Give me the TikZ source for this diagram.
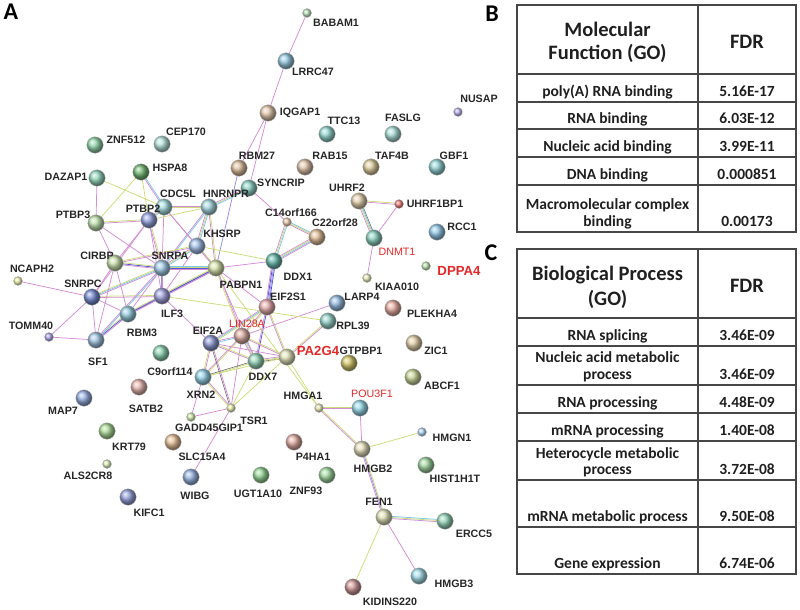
\documentclass[tikz,border=0pt]{standalone}
\usepackage{fontspec}
\newfontfamily\lsans{Liberation Sans}
\newfontfamily\carl{Carlito}
\usetikzlibrary{calc}
\pgfdeclarelayer{background}
\pgfsetlayers{background,main}
\definecolor{ee}{RGB}{212,140,212}
\definecolor{tt}{RGB}{205,220,120}
\definecolor{dd}{RGB}{120,200,232}
\definecolor{kk}{RGB}{110,110,110}
\definecolor{hh}{RGB}{150,140,225}
\definecolor{bb}{RGB}{85,85,215}
\definecolor{redtxt}{RGB}{228,40,40}
\definecolor{gridc}{RGB}{70,70,70}
\tikzset{
 pn/.style={circle, shading=ball, ball color=#1!72!white, draw=black!30, line width=0.3pt, minimum size=16.5pt, inner sep=0pt},
 sm/.style={minimum size=9pt},
 lab/.style={font=\lsans\bfseries\fontsize{10.7}{12}\selectfont, text=black!85, inner sep=0pt},
 rlab/.style={font=\lsans\fontsize{10.7}{12}\selectfont, text=redtxt, inner sep=0pt},
 rbig/.style={font=\lsans\bfseries\fontsize{13.2}{15}\selectfont, text=redtxt, inner sep=0pt},
 se/.style={draw=ee, line width=0.75pt},
 st/.style={draw=tt, line width=0.75pt},
 sd/.style={draw=dd, line width=0.75pt},
 sk/.style={draw=kk, line width=0.6pt},
 sh/.style={draw=hh, line width=0.75pt},
 sb/.style={draw=bb, line width=0.75pt},
 tb/.style={font=\carl\bfseries\fontsize{15.5}{17.5}\selectfont, text=black!88, anchor=base, inner sep=0pt},
 th/.style={font=\carl\bfseries\fontsize{20.5}{24}\selectfont, text=black!88, anchor=base, inner sep=0pt},
 panel/.style={font=\carl\bfseries\fontsize{24}{26}\selectfont, text=black, inner sep=0pt},
 grid/.style={draw=gridc, line width=1.2pt}
}
\newcommand\prot[5]{\definecolor{c#1}{HTML}{#4}\node[pn=c#1,#5] (#1) at (#2,#3) {};}
\newcommand\plab[4][lab]{\node[#1] (l#2) at (#3,#4) {#2};}
\newcommand\eline[4]{\draw[#3] ($(#1.center)!#4pt!90:(#2.center)$) -- ($(#2.center)!#4pt!-90:(#1.center)$);}
\newcommand\eA[3]{\eline{#1}{#2}{#3}{0}}
\newcommand\eB[4]{\eline{#1}{#2}{#3}{-0.6}\eline{#1}{#2}{#4}{0.6}}
\newcommand\eC[5]{\eline{#1}{#2}{#3}{-1.1}\eline{#1}{#2}{#4}{0}\eline{#1}{#2}{#5}{1.1}}
\newcommand\eD[6]{\eline{#1}{#2}{#3}{-1.6}\eline{#1}{#2}{#4}{-0.55}\eline{#1}{#2}{#5}{0.55}\eline{#1}{#2}{#6}{1.6}}
\begin{document}
\begin{tikzpicture}[x=1pt,y=-1pt]
\useasboundingbox (0,0) rectangle (800,610);
% ---------------- proteins
\prot{BABAM1}{307}{13}{9ED89E}{sm}
\prot{LRRC47}{286}{61}{6FB5D5}{}
\prot{IQGAP1}{268}{113}{D9B48F}{}
\prot{TTC13}{327}{134}{6CC9BE}{}
\prot{FASLG}{393}{134}{8DD3CB}{}
\prot{NUSAP}{458}{112}{9C94E6}{sm}
\prot{ZNF512}{95}{145}{6CC88E}{}
\prot{CEP170}{162}{144}{9BD8D0}{}
\prot{DAZAP1}{97}{178}{72CBA9}{}
\prot{HSPA8}{141}{172}{3F9E3F}{}
\prot{RBM27}{239}{168}{D3A77A}{}
\prot{RAB15}{305}{167}{D7AE8C}{}
\prot{TAF4B}{371}{167}{D6BD7C}{}
\prot{GBF1}{437}{167}{6FC6C8}{}
\prot{SYNCRIP}{249}{188}{5FBFAE}{}
\prot{UHRF2}{359}{201}{D9C08F}{}
\prot{UHRF1BP1}{399}{204}{E24848}{sm}
\prot{CDC5L}{164}{207}{84D0D3}{}
\prot{HNRNPR}{209}{207}{82C6D2}{}
\prot{PTBP2}{149}{220}{6C7FD1}{}
\prot{PTBP3}{96}{223}{A8D790}{}
\prot{C14orf166}{287}{222}{E2B08F}{sm}
\prot{C22orf28}{317}{237}{D7A774}{}
\prot{DNMT1}{374}{238}{62C1AA}{}
\prot{RCC1}{437}{232}{6DB6E0}{}
\prot{KHSRP}{197}{246}{7FA7E0}{}
\prot{DDX1}{274}{261}{2FA08F}{}
\prot{CIRBP}{115}{263}{B7D78E}{}
\prot{SNRPA}{162}{268}{7FB8E0}{}
\prot{PABPN1}{216}{268}{C9D98D}{}
\prot{DPPA4}{426}{266}{A2D98F}{sm}
\prot{KIAA010}{367}{278}{E0E8A0}{sm}
\prot{NCAPH2}{18}{281}{E8E890}{sm}
\prot{SNRPC}{92}{297}{4160C0}{}
\prot{ILF3}{162}{296}{7F80D2}{}
\prot{EIF2S1}{267}{307}{E09090}{}
\prot{LARP4}{337}{303}{6FA2D8}{}
\prot{PLEKHA4}{393}{308}{E09080}{}
\prot{RBM3}{128}{314}{6FB9D2}{}
\prot{RPL39}{328}{321}{70C2B8}{}
\prot{LIN28A}{242}{336}{D19081}{}
\prot{TOMM40}{49}{337}{9181E0}{sm}
\prot{SF1}{96}{340}{80B1D8}{}
\prot{EIF2A}{211}{343}{5F70C0}{}
\prot{ZIC1}{414}{343}{D7C088}{}
\prot{C9orf114}{161}{353}{62C393}{}
\prot{PA2G4}{287}{357}{D8D8A2}{}
\prot{DDX7}{256}{361}{6FC8A0}{}
\prot{GTPBP1}{349}{363}{BFAE2F}{}
\prot{XRN2}{203}{377}{70C1E0}{}
\prot{ABCF1}{413}{377}{B7C870}{}
\prot{SATB2}{139}{387}{E09A92}{}
\prot{MAP7}{84}{398}{7190D8}{}
\prot{TSR1}{231}{408}{E0E890}{sm}
\prot{HMGA1}{319}{408}{E0E0A0}{sm}
\prot{POU3F1}{360}{408}{6FC9E0}{}
\prot{GADD45GIP1}{191}{417}{C8E890}{sm}
\prot{KRT79}{107}{431}{90D070}{}
\prot{HMGN1}{422}{432}{94C4F0}{sm}
\prot{SLC15A4}{173}{442}{E0A870}{}
\prot{P4HA1}{294}{442}{D78F80}{}
\prot{HMGB2}{362}{449}{D9D0A0}{}
\prot{ALS2CR8}{107}{464}{D0E8A0}{sm}
\prot{HIST1H1T}{426}{465}{7FC87F}{}
\prot{UGT1A10}{261}{475}{70C870}{}
\prot{ZNF93}{327}{475}{80D080}{}
\prot{WIBG}{191}{477}{7098D8}{}
\prot{KIFC1}{128}{497}{7080D0}{}
\prot{FEN1}{384}{517}{D8D8A0}{}
\prot{ERCC5}{445}{521}{70C8A0}{}
\prot{HMGB3}{419}{576}{80D0E0}{}
\prot{KIDINS220}{353}{587}{C07070}{}
% ---------------- labels
\plab{BABAM1}{336}{23}
\plab{LRRC47}{313}{72}
\plab{IQGAP1}{300}{113}
\plab{TTC13}{344}{121}
\plab{FASLG}{403}{118}
\plab{NUSAP}{479}{99}
\plab{ZNF512}{126}{140}
\plab{CEP170}{186}{132}
\plab{DAZAP1}{66}{177}
\plab{HSPA8}{170}{168}
\plab{RBM27}{257}{156}
\plab{RAB15}{330}{156}
\plab{TAF4B}{392}{156}
\plab{GBF1}{454}{156}
\plab{SYNCRIP}{281}{183}
\plab{UHRF2}{347}{188}
\plab{UHRF1BP1}{435}{204}
\plab{CDC5L}{178}{194}
\plab{HNRNPR}{226}{194}
\plab{PTBP2}{143}{209}
\plab{PTBP3}{73}{215}
\plab{C14orf166}{291}{213}
\plab{C22orf28}{335}{223}
\plab[rlab]{DNMT1}{397}{252}
\plab{RCC1}{462}{227}
\plab{KHSRP}{222}{234}
\plab{DDX1}{298}{277}
\plab{CIRBP}{97}{256}
\plab{SNRPA}{170}{256}
\plab{PABPN1}{241}{285}
\plab[rbig]{DPPA4}{459}{271}
\plab{KIAA010}{397}{287}
\plab{NCAPH2}{32}{269}
\plab{SNRPC}{83}{284}
\plab{ILF3}{172}{314}
\plab{EIF2S1}{288}{297}
\plab{LARP4}{362}{297}
\plab{PLEKHA4}{432}{314}
\plab{RBM3}{142}{333}
\plab{RPL39}{353}{326}
\plab[rlab]{LIN28A}{247}{324}
\plab{TOMM40}{31}{326}
\plab{SF1}{98}{362}
\plab{EIF2A}{208}{331}
\plab{ZIC1}{436}{351}
\plab{C9orf114}{170}{372}
\plab[rbig]{PA2G4}{318}{351}
\plab{DDX7}{263}{377}
\plab{GTPBP1}{361}{351}
\plab{XRN2}{201}{395}
\plab{ABCF1}{442}{386}
\plab{SATB2}{146}{409}
\plab{MAP7}{63}{411}
\plab{TSR1}{254}{421}
\plab{HMGA1}{303}{396}
\plab[rlab]{POU3F1}{372}{394}
\plab{GADD45GIP1}{209}{428}
\plab{KRT79}{129}{447}
\plab{HMGN1}{452}{438}
\plab{SLC15A4}{202}{457}
\plab{P4HA1}{313}{457}
\plab{HMGB2}{373}{469}
\plab{ALS2CR8}{88}{476}
\plab{HIST1H1T}{455}{479}
\plab{UGT1A10}{258}{494}
\plab{ZNF93}{306}{491}
\plab{WIBG}{195}{496}
\plab{KIFC1}{149}{513}
\plab{FEN1}{379}{502}
\plab{ERCC5}{474}{534}
\plab{HMGB3}{454}{584}
\plab{KIDINS220}{390}{602}
% ---------------- edges
\begin{pgfonlayer}{background}
\eA{BABAM1}{LRRC47}{se}
\eA{LRRC47}{IQGAP1}{se}
\eA{IQGAP1}{SYNCRIP}{se}
\eA{IQGAP1}{RBM27}{se}
\eA{RBM27}{PABPN1}{sh}
\eC{SYNCRIP}{HNRNPR}{se}{st}{sd}
\eA{SYNCRIP}{C14orf166}{se}
\eB{HNRNPR}{CDC5L}{se}{st}
\eC{HNRNPR}{KHSRP}{se}{st}{sd}
\eB{HNRNPR}{SNRPA}{se}{sd}
\eB{HNRNPR}{PABPN1}{se}{st}
\eA{HNRNPR}{PTBP2}{st}
\eC{C14orf166}{C22orf28}{se}{st}{sd}
\eC{C14orf166}{DDX1}{se}{st}{sd}
\eD{C22orf28}{DDX1}{se}{st}{sd}{se}
\eA{DDX1}{KHSRP}{st}
\eD{DDX1}{EIF2S1}{se}{sb}{sh}{sb}
\eA{DDX1}{PABPN1}{se}
\eB{EIF2S1}{LIN28A}{se}{st}
\eC{EIF2S1}{EIF2A}{se}{sd}{st}
\eB{EIF2S1}{PA2G4}{se}{st}
\eB{EIF2S1}{DDX7}{se}{sb}
\eA{EIF2S1}{PABPN1}{se}
\eA{LIN28A}{LARP4}{se}
\eB{LIN28A}{PA2G4}{se}{st}
\eC{LIN28A}{DDX7}{se}{st}{sd}
\eB{LIN28A}{EIF2A}{se}{sd}
\eB{LIN28A}{XRN2}{se}{st}
\eA{LIN28A}{TSR1}{se}
\eB{LIN28A}{PABPN1}{se}{st}
\eB{PA2G4}{RPL39}{se}{st}
\eC{PA2G4}{DDX7}{se}{st}{sk}
\eA{PA2G4}{EIF2A}{se}
\eA{PA2G4}{HMGA1}{st}
\eA{PA2G4}{TSR1}{st}
\eA{PA2G4}{XRN2}{st}
\eA{ILF3}{RPL39}{st}
\eB{HMGA1}{POU3F1}{se}{st}
\eB{HMGA1}{HMGB2}{se}{st}
\eA{POU3F1}{HMGB2}{se}
\eA{HMGB2}{HMGN1}{st}
\eC{HMGB2}{FEN1}{se}{sh}{st}
\eC{FEN1}{ERCC5}{se}{st}{sd}
\eA{FEN1}{HMGB3}{se}
\eA{FEN1}{KIDINS220}{st}
\eB{UHRF2}{UHRF1BP1}{se}{st}
\eD{UHRF2}{DNMT1}{se}{st}{sd}{sk}
\eA{UHRF1BP1}{DNMT1}{se}
\eA{DNMT1}{KIAA010}{se}
\eA{TSR1}{GADD45GIP1}{se}
\eA{TSR1}{WIBG}{se}
\eB{TSR1}{XRN2}{se}{st}
\eB{TSR1}{EIF2A}{se}{sk}
\eA{TSR1}{DDX7}{st}
\eA{XRN2}{GADD45GIP1}{se}
\eB{XRN2}{EIF2A}{se}{st}
\eB{XRN2}{DDX7}{st}{sk}
\eB{EIF2A}{DDX7}{se}{st}
\eA{EIF2A}{ILF3}{se}
\eA{NCAPH2}{SNRPC}{se}
\eA{TOMM40}{SF1}{se}
\eA{TOMM40}{SNRPC}{se}
\eC{SNRPC}{SNRPA}{se}{sd}{st}
\eA{SNRPC}{CIRBP}{se}
\eA{SNRPC}{SF1}{se}
\eA{SNRPC}{RBM3}{se}
\eB{SNRPC}{ILF3}{se}{st}
\eA{SNRPC}{PTBP2}{se}
\eC{SF1}{RBM3}{se}{sb}{st}
\eB{SF1}{SNRPA}{sd}{se}
\eA{SF1}{CIRBP}{se}
\eB{RBM3}{ILF3}{se}{sh}
\eA{RBM3}{CIRBP}{se}
\eA{RBM3}{SNRPA}{se}
\eC{RBM3}{PABPN1}{se}{sb}{st}
\eB{ILF3}{SNRPA}{se}{sh}
\eC{ILF3}{PABPN1}{se}{sb}{st}
\eA{ILF3}{KHSRP}{se}
\eA{ILF3}{PTBP2}{se}
\eC{CIRBP}{SNRPA}{se}{sb}{st}
\eA{CIRBP}{PTBP2}{se}
\eA{CIRBP}{PTBP3}{se}
\eB{CIRBP}{KHSRP}{se}{st}
\eA{PTBP3}{DAZAP1}{se}
\eA{PTBP3}{HSPA8}{st}
\eB{PTBP3}{PTBP2}{se}{st}
\eA{PTBP3}{SNRPA}{se}
\eA{DAZAP1}{CDC5L}{st}
\eB{HSPA8}{CDC5L}{se}{sd}
\eA{HSPA8}{PTBP2}{st}
\eC{CDC5L}{PTBP2}{se}{st}{sd}
\eA{CDC5L}{SNRPA}{se}
\eA{CDC5L}{KHSRP}{se}
\eA{CDC5L}{PABPN1}{se}
\eC{KHSRP}{SNRPA}{se}{st}{sd}
\eB{KHSRP}{PABPN1}{se}{st}
\eD{SNRPA}{PABPN1}{se}{sb}{st}{sd}
\eA{PABPN1}{DDX7}{se}
\eA{PABPN1}{HMGA1}{st}
\eB{PTBP2}{SNRPA}{se}{st}
\end{pgfonlayer}
% ---------------- panel letters
\node[panel] (pA) at (11,12) {A};
\node[panel] (pB) at (492,14) {B};
\node[panel] (pC) at (491,253) {C};
% ---------------- table B
\draw[grid] (517,5) rectangle (796,232);
\draw[grid] (698,5) -- (698,232);
\foreach \yy in {74,102,129,157,185} \draw[grid] (517,\yy) -- (796,\yy);
\node[th] (b1) at (607.5,36.5) {Molecular};
\node[th] (b2) at (607.5,59.5) {Function (GO)};
\node[th] (b3) at (747,48.5) {FDR};
\node[tb] (b4) at (607.5,96.5) {poly(A) RNA binding};
\node[tb] (b5) at (747,96.5) {5.16E-17};
\node[tb] (b6) at (607.5,123.5) {RNA binding};
\node[tb] (b7) at (747,123.5) {6.03E-12};
\node[tb] (b8) at (607.5,151.5) {Nucleic acid binding};
\node[tb] (b9) at (747,151.5) {3.99E-11};
\node[tb] (b10) at (607.5,179.5) {DNA binding};
\node[tb] (b11) at (747,179.5) {0.000851};
\node[tb] (b12) at (607.5,209) {Macromolecular complex};
\node[tb] (b13) at (607.5,226.5) {binding};
\node[tb] (b14) at (747,226.5) {0.00173};
% ---------------- table C
\draw[grid] (517,249) rectangle (796,574);
\draw[grid] (698,249) -- (698,574);
\foreach \yy in {318,346,385,413,441,480,527} \draw[grid] (517,\yy) -- (796,\yy);
\node[th] (c1) at (607.5,280.5) {Biological Process};
\node[th] (c2) at (607.5,305.5) {(GO)};
\node[th] (c3) at (747,292.5) {FDR};
\node[tb] (c4) at (607.5,340.5) {RNA splicing};
\node[tb] (c5) at (747,340.5) {3.46E-09};
\node[tb] (c6) at (607.5,362) {Nucleic acid metabolic};
\node[tb] (c7) at (607.5,379.5) {process};
\node[tb] (c8) at (747,379.5) {3.46E-09};
\node[tb] (c9) at (607.5,407.5) {RNA processing};
\node[tb] (c10) at (747,407.5) {4.48E-09};
\node[tb] (c11) at (607.5,435.5) {mRNA processing};
\node[tb] (c12) at (747,435.5) {1.40E-08};
\node[tb] (c13) at (607.5,458) {Heterocycle metabolic};
\node[tb] (c14) at (607.5,474.5) {process};
\node[tb] (c15) at (747,474.5) {3.72E-08};
\node[tb] (c16) at (607.5,521.5) {mRNA metabolic process};
\node[tb] (c17) at (747,521.5) {9.50E-08};
\node[tb] (c18) at (607.5,568.5) {Gene expression};
\node[tb] (c19) at (747,568.5) {6.74E-06};
\end{tikzpicture}
\end{document}
